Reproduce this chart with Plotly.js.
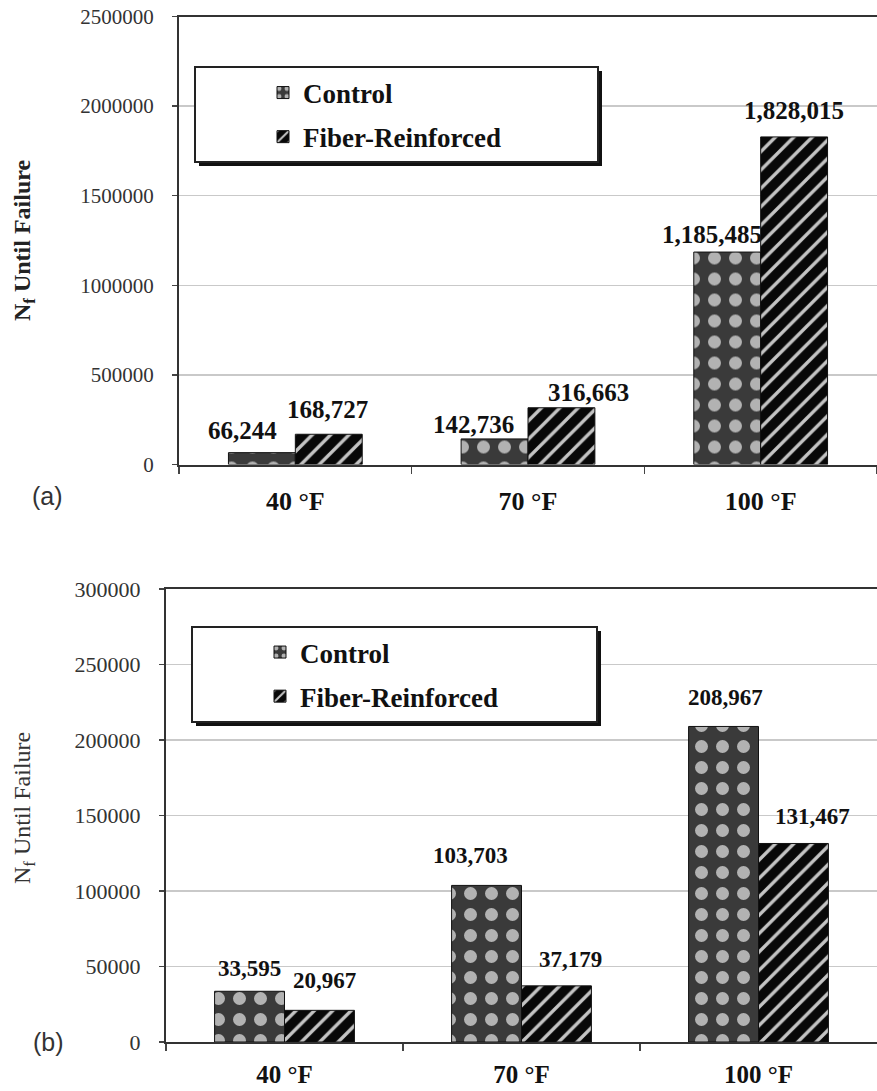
<!DOCTYPE html>
<html>
<head>
<meta charset="utf-8">
<script src="https://cdn.plot.ly/plotly-3.0.1.min.js"></script>
<style>
  html, body { margin: 0; padding: 0; background: #fff; }
  #chart { width: 877px; height: 1091px; }
</style>
</head>
<body>
<div id="chart"></div>
<script>
// ---------- data ----------
const categories = ['40 °F', '70 °F', '100 °F'];
const seriesNames = ['Control', 'Fiber-Reinforced'];
const controlA = [66244, 142736, 1185485];
const fiberA   = [168727, 316663, 1828015];
const controlB = [33595, 103703, 208967];
const fiberB   = [20967, 37179, 131467];
const yTitle = 'N<sub>f</sub> Until Failure';
const panelLabels = ['(a)', '(b)'];

// ---------- style / placement ----------
const W = 877, H = 1091;
const SERIF = "'Liberation Serif', 'Times New Roman', serif";
const SANS = "'Liberation Sans', Arial, sans-serif";
const px = v => v / W;          // x pixel -> paper
const py = v => 1 - v / H;      // y pixel -> paper

// barFrac = width of one bar as a fraction of a category
const panelA = { left: 179, right: 877, top: 16.5, bottom: 464.5, barFrac: 0.2875 };
const panelB = { left: 166, right: 877, top: 589, bottom: 1042, barFrac: 0.295 };

// label offsets (px) relative to the top-centre of each bar: [dx, dy]
const offA = { c: [[-19, -22], [-21, -14], [-15, -18]], f: [[-1, -25], [27, -15], [0, -26]] };
const offB = { c: [[0, -23], [-16, -30], [1.5, -29]], f: [[5, -30], [14, -26], [19.5, -27]] };

const patControl = { shape: '.', bgcolor: '#3a3a3a', fgcolor: '#b2b2b2', size: 21, solidity: 0.3 };
const patFiber   = { shape: '/', bgcolor: '#080808', fgcolor: '#c4c4c4', size: 13, solidity: 0.26 };

function barTrace(name, y, pat, xa, ya, legendRef, group, p, side) {
  return {
    type: 'bar', name: name, x: categories, y: y, xaxis: xa, yaxis: ya,
    legend: legendRef, legendgroup: group,
    width: p.barFrac, offset: side < 0 ? -p.barFrac : 0,
    marker: { color: pat.bgcolor, pattern: pat, line: { color: '#111', width: 1 } },
    hoverinfo: 'skip'
  };
}

const traces = [
  barTrace(seriesNames[0], controlA, patControl, 'x', 'y', 'legend', 'c', panelA, -1),
  barTrace(seriesNames[1], fiberA, patFiber, 'x', 'y', 'legend', 'f', panelA, 1),
  barTrace(seriesNames[0], controlB, patControl, 'x2', 'y2', 'legend2', 'c', panelB, -1),
  barTrace(seriesNames[1], fiberB, patFiber, 'x2', 'y2', 'legend2', 'f', panelB, 1)
];

function halfBar(p) {
  const catW = (p.right - p.left) / categories.length;
  return catW * p.barFrac / 2;   // centre offset of each of two bars
}

function valueLabels(cVals, fVals, off, p, xref, yref, size) {
  const h = halfBar(p);
  const out = [];
  categories.forEach((cat, i) => {
    [[cVals, off.c, -h], [fVals, off.f, h]].forEach(([vals, o, shift]) => {
      out.push({
        x: cat, y: vals[i], xref: xref, yref: yref,
        text: vals[i].toLocaleString('en-US'),
        showarrow: false, xanchor: 'center', yanchor: 'middle',
        xshift: shift + o[i][0], yshift: -o[i][1],
        font: { family: SERIF, size: size, color: '#111', weight: 'bold' }
      });
    });
  });
  return out;
}

const annotations = [].concat(
  valueLabels(controlA, fiberA, offA, panelA, 'x', 'y', 25),
  valueLabels(controlB, fiberB, offB, panelB, 'x2', 'y2', 23),
  [
    { text: yTitle, xref: 'paper', yref: 'paper', x: px(24), y: py(240), textangle: -90,
      showarrow: false, xanchor: 'center', yanchor: 'middle',
      font: { family: SERIF, size: 24, color: '#222', weight: 'bold' } },
    { text: yTitle, xref: 'paper', yref: 'paper', x: px(24), y: py(808), textangle: -90,
      showarrow: false, xanchor: 'center', yanchor: 'middle',
      font: { family: SERIF, size: 24, color: '#333' } },
    { text: panelLabels[0], xref: 'paper', yref: 'paper', x: px(47), y: py(496),
      showarrow: false, xanchor: 'center', yanchor: 'middle',
      font: { family: SANS, size: 25, color: '#333' } },
    { text: panelLabels[1], xref: 'paper', yref: 'paper', x: px(48), y: py(1042),
      showarrow: false, xanchor: 'center', yanchor: 'middle',
      font: { family: SANS, size: 25, color: '#333' } }
  ]
);

function legendBox(x0, y0, x1, y1) {
  return [
    { type: 'rect', xref: 'paper', yref: 'paper', layer: 'above',
      x0: px(x0 + 4), x1: px(x1 + 4), y0: py(y1 + 4), y1: py(y0 + 4),
      fillcolor: '#111', line: { width: 0 } },
    { type: 'rect', xref: 'paper', yref: 'paper', layer: 'above',
      x0: px(x0), x1: px(x1), y0: py(y1), y1: py(y0),
      fillcolor: '#fff', line: { color: '#222', width: 2 } }
  ];
}

function xAxis(p, anchor, fontSize, standoff) {
  return {
    domain: [px(p.left), Math.min(1, px(p.right))], anchor: anchor, type: 'category',
    showline: true, linecolor: '#333', linewidth: 2, mirror: true,
    showgrid: false, zeroline: false,
    ticks: 'outside', tickson: 'boundaries', ticklen: 7, tickwidth: 1.5, tickcolor: '#444',
    ticklabelstandoff: standoff,
    tickfont: { family: SERIF, size: fontSize, color: '#111', weight: 'bold' },
    fixedrange: true
  };
}
function yAxis(p, anchor, range, dtick, fontSize) {
  return {
    domain: [py(p.bottom), py(p.top)], anchor: anchor, range: range, dtick: dtick,
    tickformat: 'd', showline: true, linecolor: '#333', linewidth: 2,
    showgrid: true, gridcolor: '#c9c9c9', gridwidth: 1.5, zeroline: false,
    ticks: 'outside', ticklen: 5, tickwidth: 1.5, tickcolor: '#444',
    ticklabelstandoff: 14,
    tickfont: { family: SERIF, size: fontSize, color: '#333' },
    fixedrange: true
  };
}

const legendFont = { family: SERIF, size: 27, color: '#111', weight: 'bold' };

const layout = {
  width: W, height: H,
  margin: { l: 0, r: 0, t: 0, b: 0, pad: 0 },
  paper_bgcolor: '#fff', plot_bgcolor: '#fff',
  barmode: 'group',
  xaxis: xAxis(panelA, 'y', 26, 12),
  yaxis: yAxis(panelA, 'x', [0, 2500000], 500000, 21),
  xaxis2: xAxis(panelB, 'y2', 25, 9),
  yaxis2: yAxis(panelB, 'x2', [0, 300000], 50000, 22),
  legend: {
    x: px(263), xanchor: 'left', y: py(115), yanchor: 'middle',
    bgcolor: 'rgba(0,0,0,0)', borderwidth: 0, font: legendFont,
    traceorder: 'grouped', tracegroupgap: 6, itemclick: false, itemdoubleclick: false
  },
  legend2: {
    x: px(260), xanchor: 'left', y: py(674.5), yanchor: 'middle',
    bgcolor: 'rgba(0,0,0,0)', borderwidth: 0, font: legendFont,
    traceorder: 'grouped', tracegroupgap: 6, itemclick: false, itemdoubleclick: false
  },
  shapes: [].concat(legendBox(195, 67, 598, 162), legendBox(192, 627, 597, 722)),
  annotations: annotations,
  showlegend: true
};

Plotly.newPlot('chart', traces, layout, { staticPlot: true, displayModeBar: false });
</script>
</body>
</html>
